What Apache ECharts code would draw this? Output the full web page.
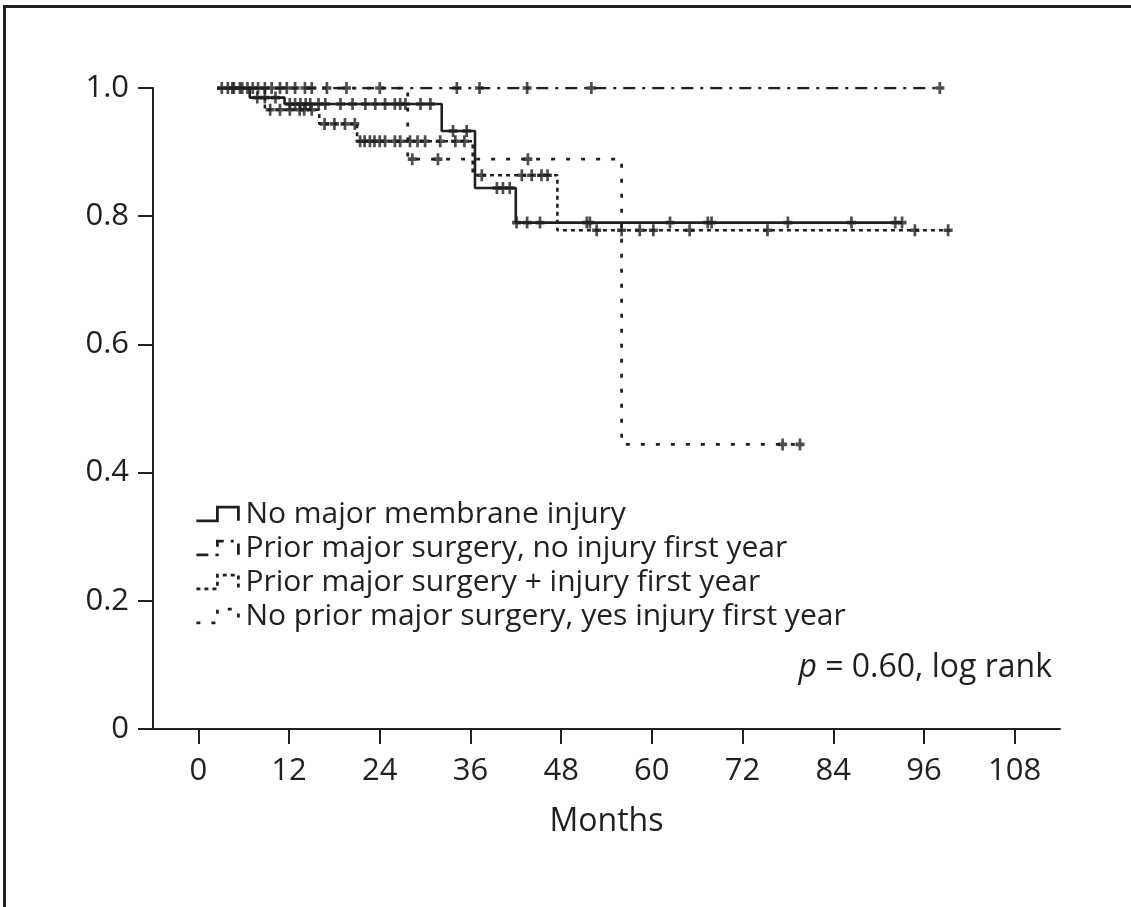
<!DOCTYPE html>
<html>
<head>
<meta charset="utf-8">
<script src="https://cdn.jsdelivr.net/npm/echarts@6/dist/echarts.min.js"></script>
<style>html,body{margin:0;padding:0;background:#fff}#c{width:1131px;height:907px}</style>
</head>
<body>
<div id="c"></div>
<script>
// ---- data (months, survival) ----
const seriesNames = [
  'No major membrane injury',
  'Prior major surgery, no injury first year',
  'Prior major surgery + injury first year',
  'No prior major surgery, yes injury first year'
];
const xTickValues = [0, 12, 24, 36, 48, 60, 72, 84, 96, 108];
const yTickValues = [0, 0.2, 0.4, 0.6, 0.8, 1.0];

const s1Times = [2.5, 6.8, 11.4, 32.2, 36.6, 42.0, 93.2];
const s1Surv  = [1.0, 0.985, 0.975, 0.933, 0.844, 0.790, 0.790];
const s1Cens  = [4.5, 5.8, 7.8, 8.8, 10.2, 12.1, 12.8, 13.5, 14.2, 14.8, 15.9, 16.8, 18.8, 20.4, 22.1, 23.4, 24.7, 26.0, 26.7, 27.4, 29.4, 30.7, 33.7, 35.5, 39.5, 40.3, 41.2, 42.1, 43.5, 45.2, 51.4, 51.8, 62.4, 67.4, 67.9, 78.0, 86.4, 92.2, 93.1];

const s2Times = [2.5, 98.1];
const s2Surv  = [1.0, 1.0];
const s2Cens  = [3.1, 3.9, 4.7, 5.5, 6.5, 7.2, 7.9, 8.8, 9.7, 10.8, 11.7, 12.8, 14.1, 15.0, 17.0, 19.6, 24.0, 34.2, 37.2, 43.5, 52.0, 98.1];

const s3Times = [2.5, 8.8, 16.0, 21.0, 36.3, 47.5, 99.4];
const s3Surv  = [1.0, 0.966, 0.944, 0.917, 0.864, 0.778, 0.778];
const s3Cens  = [9.5, 10.8, 12.1, 13.4, 14.0, 15.0, 16.7, 18.0, 19.4, 20.7, 21.4, 22.0, 22.7, 23.3, 24.0, 24.7, 26.0, 26.7, 28.0, 29.0, 30.0, 32.0, 34.0, 35.2, 37.5, 42.8, 44.1, 45.4, 46.2, 52.7, 56.0, 58.4, 60.2, 65.0, 75.3, 94.8, 99.2];

const s4Times = [2.5, 27.7, 56.0, 79.6];
const s4Surv  = [1.0, 0.889, 0.444, 0.444];
const s4Cens  = [28.3, 31.7, 43.6, 77.3, 79.6];

// ---- build ----
const INK = '#231f20';
const FONT = 'Open Sans';
function survAt(times, surv, t) {
  let v = surv[0];
  for (let i = 0; i < times.length; i++) { if (times[i] <= t) v = surv[i]; }
  return v;
}
const groups = [
  {times: s1Times, surv: s1Surv, cens: s1Cens, dash: 'solid', width: 2.6},
  {times: s2Times, surv: s2Surv, cens: s2Cens, dash: [12, 7, 3, 7], width: 2.6},
  {times: s3Times, surv: s3Surv, cens: s3Cens, dash: [4, 4], width: 2.6},
  {times: s4Times, surv: s4Surv, cens: s4Cens, dash: [4, 11], width: 2.8}
];
const plusPath = 'path://M3.5,0 L6.5,0 L6.5,3.5 L10,3.5 L10,6.5 L6.5,6.5 L6.5,10 L3.5,10 L3.5,6.5 L0,6.5 L0,3.5 L3.5,3.5 Z';
const series = [];
groups.forEach((g, k) => {
  series.push({
    name: seriesNames[k], type: 'line', step: 'end', symbol: 'none',
    data: g.times.map((t, i) => [t, g.surv[i]]),
    lineStyle: {color: INK, width: g.width, type: g.dash},
    z: 2, silent: true, animation: false
  });
  series.push({
    name: seriesNames[k], type: 'scatter', symbol: plusPath, symbolSize: [9, 12],
    data: g.cens.map(t => [t, survAt(g.times, g.surv, t)]),
    itemStyle: {color: INK}, z: 3, silent: true, animation: false
  });
});

const stepIcon = 'path://M0,15 L20,15 L20,2 L40,2 L40,15';
const legendData = groups.map((g, k) => ({
  name: seriesNames[k], icon: stepIcon,
  itemStyle: {color: 'transparent', borderColor: INK, borderWidth: 2.8, borderType: g.dash}
}));

const chart = echarts.init(document.getElementById('c'), null, {renderer: 'canvas'});
chart.setOption({
  backgroundColor: '#fff',
  animation: false,
  grid: {left: 153, right: 71, top: 88, bottom: 178, containLabel: false},
  xAxis: {
    type: 'value', min: -6, max: 114,
    name: 'Months', nameLocation: 'middle', nameGap: 77,
    nameTextStyle: {fontFamily: FONT, fontSize: 32, color: INK},
    axisLine: {show: true, onZero: false, lineStyle: {color: INK, width: 2}},
    axisTick: {show: true, length: 15, lineStyle: {color: INK, width: 2}, customValues: xTickValues},
    axisLabel: {fontFamily: FONT, fontSize: 31, color: INK, margin: 27, customValues: xTickValues},
    splitLine: {show: false}
  },
  yAxis: {
    type: 'value', min: 0, max: 1, interval: 0.2,
    axisLine: {show: true, onZero: false, lineStyle: {color: INK, width: 2}},
    axisTick: {show: true, length: 15, lineStyle: {color: INK, width: 2}},
    axisLabel: {fontFamily: FONT, fontSize: 31, color: INK, margin: 24,
      formatter: v => (v === 0 ? '0' : v.toFixed(1))},
    splitLine: {show: false}
  },
  legend: {
    orient: 'vertical', left: 190, top: 494,
    itemWidth: 42, itemHeight: 16, itemGap: 4,
    selectedMode: false,
    textStyle: {fontFamily: FONT, fontSize: 30, color: INK, lineHeight: 30, padding: [0, 0, 0, 2]},
    data: legendData
  },
  graphic: [
    {type: 'rect', shape: {x: 4.5, y: 6.5, width: 1300, height: 1100},
     style: {fill: 'none', stroke: INK, lineWidth: 3}, silent: true},
    {type: 'text', right: 79, top: 652,
     style: {text: '{i|p} = 0.60, log rank', fill: INK, font: '32px "Open Sans"',
       rich: {i: {fontStyle: 'italic', fontFamily: FONT, fontSize: 32, fill: INK}}}}
  ],
  series: series
});
</script>
</body>
</html>
